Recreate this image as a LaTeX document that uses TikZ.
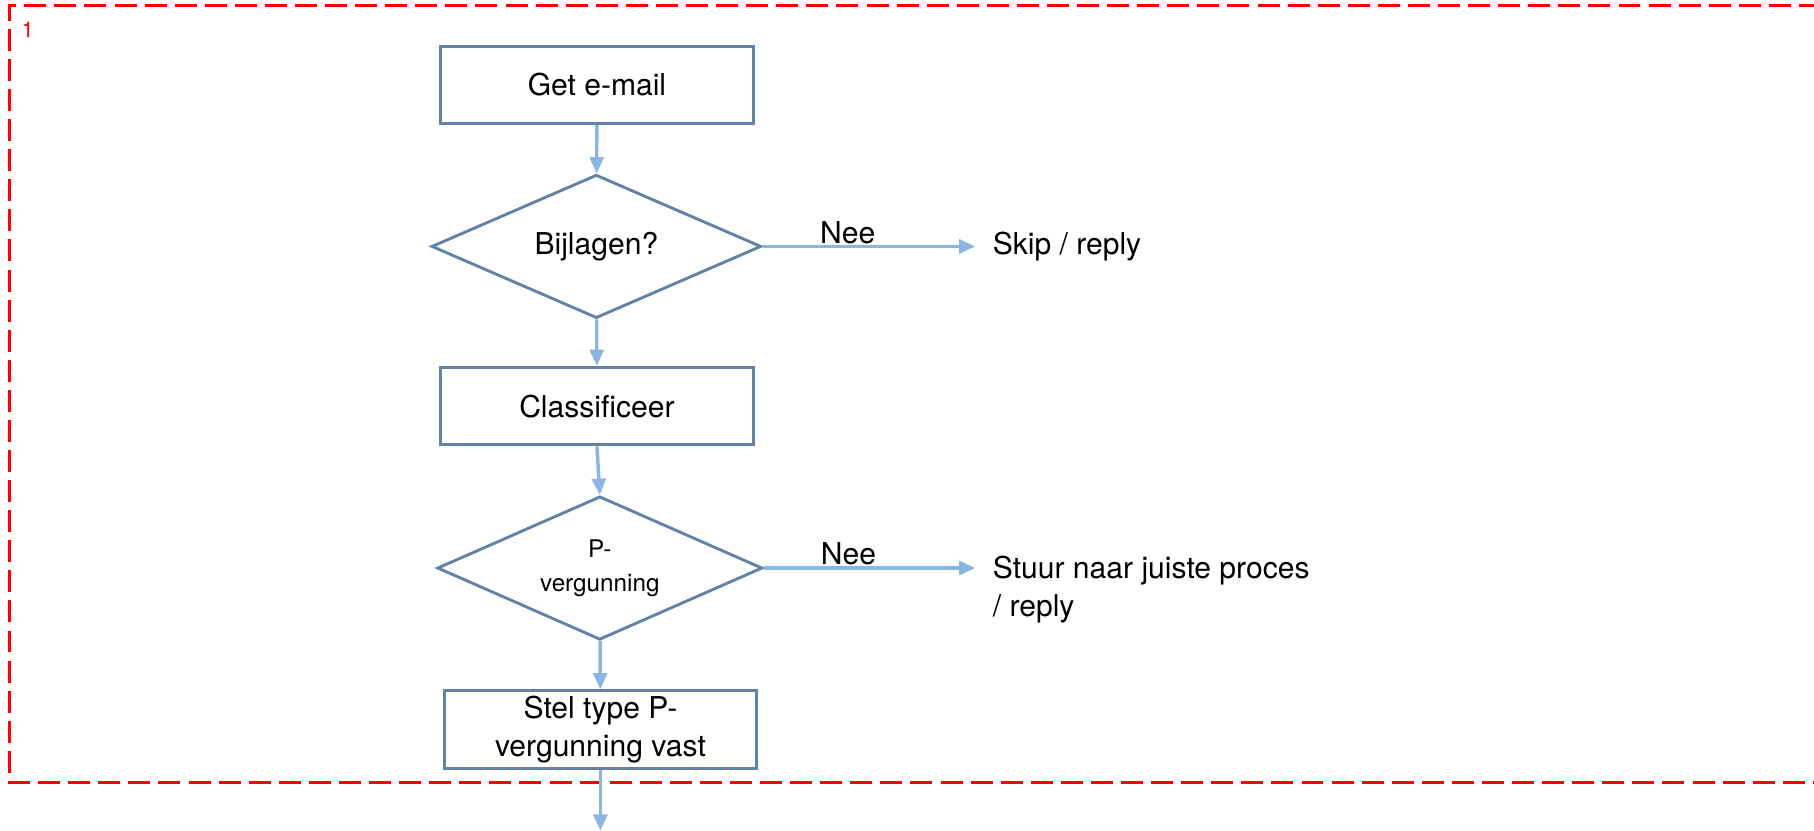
\documentclass[tikz,border=0pt]{standalone}
\usepackage{fontspec}
\setmainfont{TeX Gyre Heros}
\usetikzlibrary{shapes.geometric,arrows.meta}
\definecolor{boxline}{RGB}{98,131,168}
\definecolor{arrowc}{RGB}{140,182,226}
\definecolor{framered}{RGB}{255,0,0}
\begin{document}
\begin{tikzpicture}[x=1pt,y=-1pt,
  stepbox/.style={draw=boxline,line width=2.5pt,minimum width=270pt,minimum height=67pt,inner sep=0pt,align=center,font=\fontsize{26}{33}\selectfont},
  decision/.style={diamond,draw=boxline,line width=2.5pt,inner sep=0pt,minimum width=285pt,minimum height=124pt,aspect=2.3,align=center},
  flow/.style={draw=arrowc,line width=3pt,-{Triangle[length=14pt,width=12pt]}},
  lbl/.style={font=\fontsize{26}{33}\selectfont,inner sep=0pt}
]
\useasboundingbox (0,0) rectangle (1568,718);
\begin{scope}
\clip (0,0) rectangle (1568,718);
\draw[framered,line width=2.6pt,dash pattern=on 19pt off 7pt] (1600,5) -- (8,5) -- (8,676) -- (1600,676);
\end{scope}
\node[text=framered,font=\fontsize{19}{22}\selectfont,inner sep=0pt] (frameno) at (24,26) {1};

\node[stepbox] (mail) at (516,73.5) {Get e-mail};
\node[decision,font=\fontsize{26}{31}\selectfont] (bijl) at (515.5,213) {Bijlagen?};
\node[stepbox] (klas) at (516,351) {Classificeer};
\node[decision,minimum width=281pt,font=\fontsize{21}{29}\selectfont] (pverg) at (518.5,491) {P-\\vergunning};
\node[stepbox] (stel) at (519,630.5) {Stel type P-\\vergunning vast};

\node[lbl,anchor=west] (skip) at (858,213) {Skip / reply};
\node[lbl,anchor=north west,align=left] (stuur) at (858,480) {Stuur naar juiste proces\\/ reply};

\coordinate (skipend) at (843,213);
\coordinate (stuurend) at (843,491);
\coordinate (down) at (519,718);

\draw[flow] (mail) -- (bijl);
\draw[flow] (bijl.east) -- node[lbl,above=1pt,pos=0.4] (nee1) {Nee} (skipend);
\draw[flow] (bijl) -- (klas);
\draw[flow] (klas.south) -- (pverg.north);
\draw[flow] (pverg.east) -- node[lbl,above=1pt,pos=0.4] (nee2) {Nee} (stuurend);
\draw[flow] (pverg) -- (stel);
\draw[flow] (stel) -- (down);
\end{tikzpicture}
\end{document}
